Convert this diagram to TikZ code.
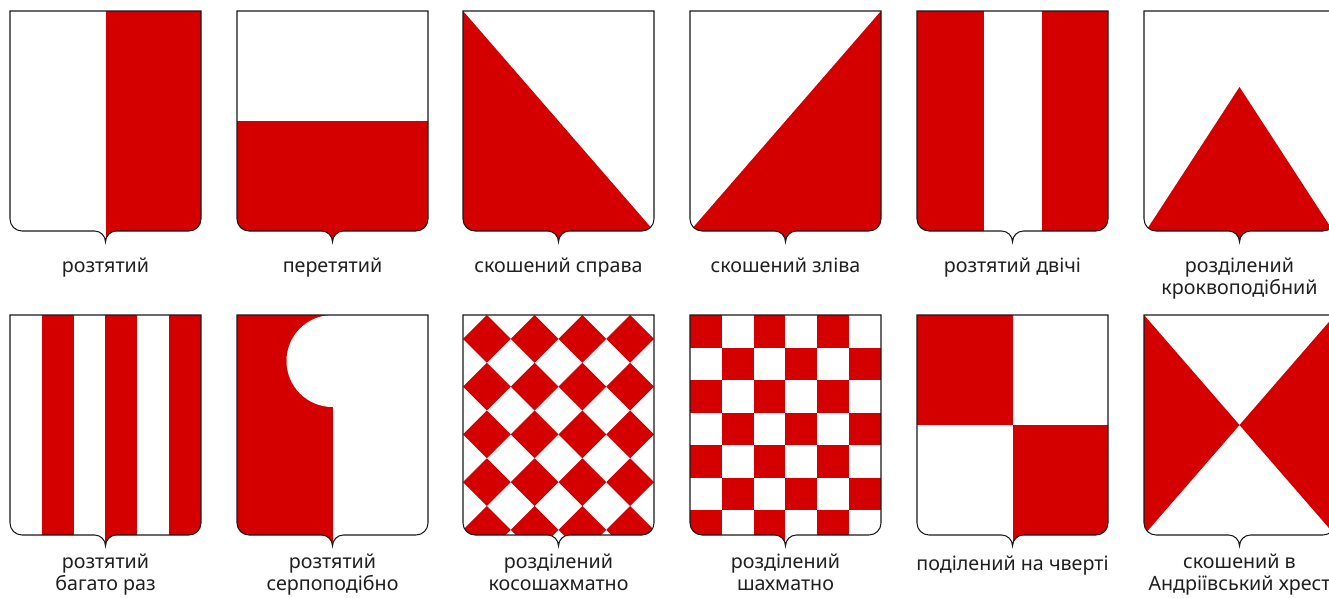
\documentclass[tikz,border=0pt]{standalone}
\usepackage{fontspec}
\setmainfont{Noto Sans}
\usepackage{tikz}

\definecolor{heraldred}{RGB}{212,0,0}
\definecolor{labelgray}{RGB}{32,32,32}

\tikzset{
    shieldline/.style={draw=black!90, line width=0.6pt},
    tincture/.style={fill=heraldred},
    caption/.style={anchor=base, align=center, text=labelgray,
        font=\fontsize{11.2}{12.5}\selectfont},
}

% shield outline: #1 = left edge, #2 = top edge
\newcommand{\shieldpath}[2]{(#1,#2) -- ++(0,-208)
    arc[start angle=180, end angle=270, radius=12] -- ++(72.5,0)
    arc[start angle=90, end angle=0, radius=11]
    arc[start angle=180, end angle=90, radius=11] -- ++(72.5,0)
    arc[start angle=270, end angle=360, radius=12] -- ++(0,208) -- cycle}

\begin{document}
\begin{tikzpicture}[x=0.02cm, y=0.02cm]

    % Page
    \fill[white] (0,0) rectangle (1329,-598);
    \clip (0,0) rectangle (1329,-598);

    % Row 1: pale
    \begin{scope}
        \clip \shieldpath{10}{-11};
        \fill[tincture] (105.5,-11) rectangle (210,-260);
    \end{scope}
    \draw[shieldline] \shieldpath{10}{-11};
    \node[caption] (pale) at (105.5,-272) {розтятий};

    % fess
    \begin{scope}
        \clip \shieldpath{237}{-11};
        \fill[tincture] (230,-121) rectangle (440,-260);
    \end{scope}
    \draw[shieldline] \shieldpath{237}{-11};
    \node[caption] (fess) at (332.5,-272) {перетятий};

    % bend
    \begin{scope}
        \clip \shieldpath{463}{-11};
        \fill[tincture] (463,-11) -- (654,-231) -- (660,-260) -- (455,-260) -- cycle;
    \end{scope}
    \draw[shieldline] \shieldpath{463}{-11};
    \node[caption] (bend) at (558.5,-272) {скошений справа};

    % bend sinister
    \begin{scope}
        \clip \shieldpath{690}{-11};
        \fill[tincture] (690,-231) -- (881,-11) -- (890,-260) -- (680,-260) -- cycle;
    \end{scope}
    \draw[shieldline] \shieldpath{690}{-11};
    \node[caption] (sinister) at (785.5,-272) {скошений зліва};

    % tierced in pale
    \begin{scope}
        \clip \shieldpath{917}{-11};
        \fill[tincture] (910,-11) rectangle (984,-260);
        \fill[tincture] (1042,-11) rectangle (1115,-260);
    \end{scope}
    \draw[shieldline] \shieldpath{917}{-11};
    \node[caption] (tierced) at (1012.5,-272) {розтятий двічі};

    % per chevron
    \begin{scope}
        \clip \shieldpath{1144}{-11};
        \fill[tincture] (1239.5,-87) -- (1127,-260) -- (1352,-260) -- cycle;
    \end{scope}
    \draw[shieldline] \shieldpath{1144}{-11};
    \node[caption] (chevron) at (1239.5,-294) {розділений\\кроквоподібний};

    % Row 2: paly
    \begin{scope}
        \clip \shieldpath{10}{-315};
        \foreach \k in {1,3,5}
            \fill[tincture] ({10+\k*31.83},-315) rectangle ++(31.83,-250);
    \end{scope}
    \draw[shieldline] \shieldpath{10}{-315};
    \node[caption] (paly) at (105.5,-590) {розтятий\\багато раз};

    % per pale arched
    \begin{scope}
        \clip \shieldpath{237}{-315};
        \fill[tincture] (230,-315) rectangle (332.5,-570);
        \fill[white] (332.5,-361) circle[radius=46];
    \end{scope}
    \draw[shieldline] \shieldpath{237}{-315};
    \node[caption] (arched) at (332.5,-590) {розтятий\\серпоподібно};

    % lozengy
    \begin{scope}
        \clip \shieldpath{463}{-315};
        \foreach \i in {0,...,3}
            \foreach \j in {0,...,4}
                \fill[tincture] ({486.875+\i*47.75},{-315-\j*47.75})
                    -- ++(23.875,-23.875) -- ++(-23.875,-23.875)
                    -- ++(-23.875,23.875) -- cycle;
    \end{scope}
    \draw[shieldline] \shieldpath{463}{-315};
    \node[caption] (lozengy) at (558.5,-590) {розділений\\косошахматно};

    % chequy
    \begin{scope}
        \clip \shieldpath{690}{-315};
        \foreach \j [evaluate=\j as \shift using {mod(\j,2)}] in {0,...,7}
            \foreach \i in {0,2,4}
                \fill[tincture] ({690+(\i+\shift)*31.83},{-315-\j*32.5})
                    rectangle ++(31.83,-32.5);
    \end{scope}
    \draw[shieldline] \shieldpath{690}{-315};
    \node[caption] (chequy) at (785.5,-590) {розділений\\шахматно};

    % quarterly
    \begin{scope}
        \clip \shieldpath{917}{-315};
        \fill[tincture] (910,-315) rectangle (1012.5,-425);
        \fill[tincture] (1012.5,-425) rectangle (1115,-570);
    \end{scope}
    \draw[shieldline] \shieldpath{917}{-315};
    \node[caption] (quarterly) at (1012.5,-570) {поділений на чверті};

    % per saltire
    \begin{scope}
        \clip \shieldpath{1144}{-315};
        \fill[tincture] (1144,-315) -- (1239.5,-425) -- (1144,-535) -- (1130,-560) -- (1130,-300) -- cycle;
        \fill[tincture] (1335,-315) -- (1239.5,-425) -- (1335,-535) -- (1350,-560) -- (1350,-300) -- cycle;
    \end{scope}
    \draw[shieldline] \shieldpath{1144}{-315};
    \node[caption] (saltire) at (1239.5,-590) {скошений в\\Андріївський хрест};

\end{tikzpicture}
\end{document}
